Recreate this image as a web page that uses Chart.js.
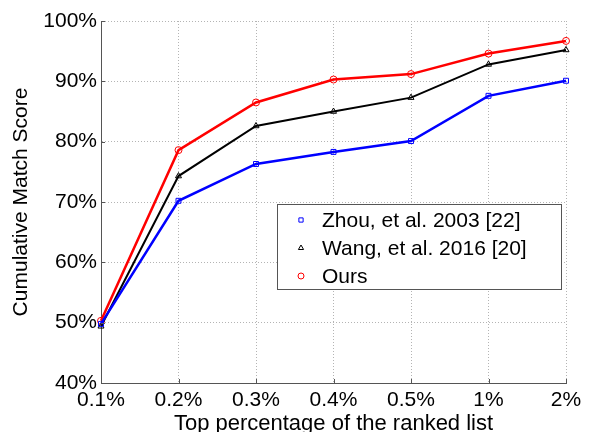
<!DOCTYPE html>
<html>
<head>
<meta charset="utf-8">
<script src="https://cdn.jsdelivr.net/npm/chart.js@4.4.1/dist/chart.umd.min.js"></script>
<style>
  html, body { margin: 0; padding: 0; background: #fff; }
  #wrap { width: 590px; height: 432px; }
</style>
</head>
<body>
<div id="wrap"><canvas id="cmc" width="590" height="432"></canvas></div>
<script>
// ranks on the x axis
const ranks = ['0.1%', '0.2%', '0.3%', '0.4%', '0.5%', '1%', '2%'];

// cumulative match score (%) per method
const zhou = [49.8, 70.2, 76.3, 78.3, 80.1, 87.6, 90.1];
const wang = [49.4, 74.3, 82.6, 85.0, 87.3, 92.8, 95.2];
const ours = [50.3, 78.6, 86.5, 90.3, 91.2, 94.6, 96.7];

const seriesNames = ['Zhou, et al. 2003 [22]', 'Wang, et al. 2016 [20]', 'Ours'];

const yTicks = [40, 50, 60, 70, 80, 90, 100];

const FONT = '"Liberation Sans", Arial, sans-serif';

function series(label, data, color, shape, width) {
    return {
        label: label,
        data: data,
        borderColor: color,
        borderWidth: width,
        pointStyle: shape,
        pointRadius: 3.5,
        pointBorderWidth: 1,
        pointBorderColor: color,
        pointBackgroundColor: 'rgba(0,0,0,0)',
        tension: 0,
        fill: false
    }
}

// short inward tick marks on the left and bottom axes
const innerTicks = {
    id: 'innerTicks',
    afterDatasetsDraw(chart) {
        const ctx = chart.ctx;
        const area = chart.chartArea;
        const xs = chart.scales.x, ys = chart.scales.y;
        ctx.save();
        ctx.strokeStyle = '#555';
        ctx.lineWidth = 1;
        ctx.beginPath();
        ys.ticks.forEach(t => {
            const y = Math.round(ys.getPixelForValue(t.value)) + 0.5;
            ctx.moveTo(area.left, y);
            ctx.lineTo(area.left + 4, y);
        });
        xs.ticks.forEach((t, i) => {
            const x = Math.round(xs.getPixelForTick(i)) + 0.5;
            ctx.moveTo(x, area.bottom);
            ctx.lineTo(x, area.bottom - 4);
        });
        ctx.stroke();
        ctx.restore();
    }
};

// legend box drawn inside the plot, lower right
const boxLegend = {
    id: 'boxLegend',
    afterDraw(chart) {
        const ctx = chart.ctx;
        const area = chart.chartArea;
        const w = 284, h = 85;
        const x0 = area.right - 5 - w;
        const y0 = area.top + 183;
        ctx.save();
        ctx.fillStyle = '#fff';
        ctx.fillRect(x0, y0, w, h);
        ctx.strokeStyle = '#555';
        ctx.lineWidth = 1;
        ctx.strokeRect(x0 + 0.5, y0 + 0.5, w, h);
        ctx.font = '21px ' + FONT;
        ctx.textBaseline = 'middle';
        chart.data.datasets.forEach((ds, i) => {
            const cy = y0 + 16 + i * 28;
            ctx.strokeStyle = ds.borderColor;
            ctx.fillStyle = 'rgba(0,0,0,0)';
            ctx.lineWidth = 1;
            Chart.helpers.drawPoint(ctx, {
                pointStyle: ds.pointStyle, radius: 3, borderWidth: 1
            }, x0 + 24, cy);
            ctx.fillStyle = '#000';
            ctx.fillText(ds.label, x0 + 45, cy + 1);
        });
        ctx.restore();
    }
};

const data = {
    labels: ranks,
    datasets: [
        series(seriesNames[0], zhou, '#0000ff', 'rect', 2.5),
        series(seriesNames[1], wang, '#000000', 'triangle', 2),
        series(seriesNames[2], ours, '#ff0000', 'circle', 2.5)
    ]
};

const config = {
    type: 'line',
    data: data,
    options: {
        responsive: false,
        animation: false,
        layout: { padding: { top: 21, right: 24, left: 0, bottom: 0 } },
        plugins: {
            legend: { display: false },
            tooltip: { enabled: false }
        },
        scales: {
            x: {
                offset: false,
                grid: { color: '#b4b4b4', drawTicks: false },
                border: { display: true, color: '#555', width: 1, dash: [1, 2] },
                ticks: { color: '#000', font: { family: FONT, size: 21 }, padding: 5, maxRotation: 0 },
                title: {
                    display: true,
                    text: 'Top percentage of the ranked list',
                    color: '#000',
                    font: { family: FONT, size: 22, lineHeight: 0.7 },
                    padding: 0
                },
                afterFit(scale) { scale.height = 49 }
            },
            y: {
                min: 40,
                max: 100,
                afterBuildTicks(scale) { scale.ticks = yTicks.map(v => ({ value: v })) },
                grid: { color: '#b4b4b4', drawTicks: false },
                border: { display: true, color: '#555', width: 1, dash: [1, 2] },
                ticks: {
                    color: '#000',
                    font: { family: FONT, size: 21 },
                    padding: 4,
                    callback: v => v + '%'
                },
                title: {
                    display: true,
                    text: 'Cumulative Match Score',
                    color: '#000',
                    font: { family: FONT, size: 21, lineHeight: 2 },
                    padding: 0
                },
                afterFit(scale) { scale.width = 101 }
            }
        }
    },
    plugins: [innerTicks, boxLegend]
};

let ctx = document.getElementById('cmc').getContext('2d');
new Chart(ctx, config);
</script>
</body>
</html>
